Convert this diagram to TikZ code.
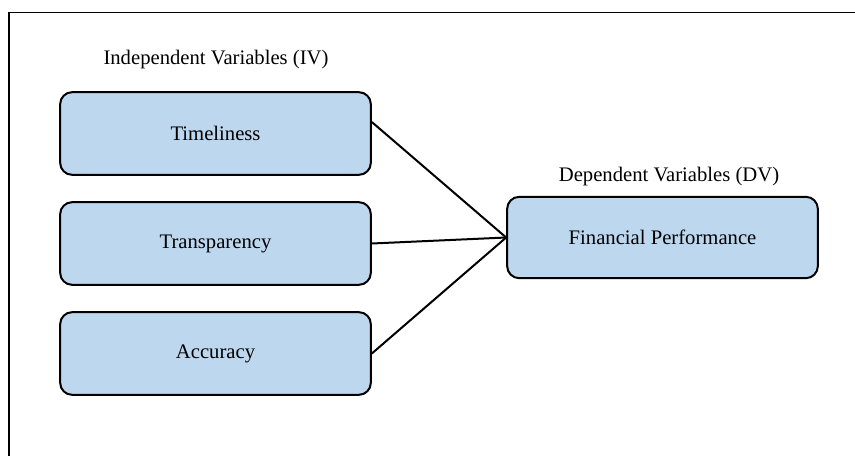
\documentclass[tikz,border=0pt]{standalone}
\usepackage{fontspec}
\setmainfont{Liberation Serif}
\definecolor{boxfill}{HTML}{BDD7EE}
\begin{document}
\begin{tikzpicture}[x=0.75pt,y=-0.75pt,
  varbox/.style={draw=black, line width=1.5pt, fill=boxfill, rounded corners=9pt,
    minimum width=233pt, minimum height=62pt, inner sep=0pt,
    font=\fontsize{15.5}{18}\selectfont},
  caption/.style={font=\fontsize{15.5}{18}\selectfont, inner sep=0pt},
  link/.style={line width=1.5pt}]
\useasboundingbox (0,0) rectangle (855,456);
\coordinate (frtop) at (855,12.5);
\coordinate (frcorner) at (9,12.5);
\coordinate (frbot) at (9,456);
\draw[line width=0.9pt] (frbot) -- (frcorner) -- (frtop);
\node[caption] (ivlab) at (216,60) {Independent Variables (IV)};
\node[caption] (dvlab) at (669,177) {Dependent Variables (DV)};
\node[varbox] (t1) at (215.5,133.5) {Timeliness};
\node[varbox] (t2) at (215.5,243.5) {Transparency};
\node[varbox] (t3) at (215.5,353.5) {Accuracy};
\node[varbox, minimum height=61pt] (dv) at (662.5,237.5) {Financial Performance};
\draw[link] ([yshift=8.6pt]t1.east) -- (dv.west);
\draw[link] (t2.east) -- (dv.west);
\draw[link] (t3.east) -- (dv.west);
\end{tikzpicture}
\end{document}
